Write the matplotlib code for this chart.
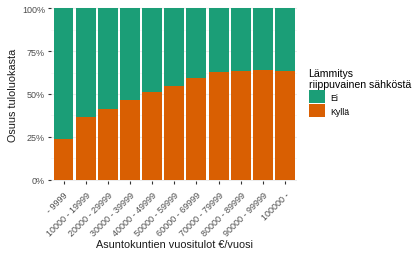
import matplotlib.pyplot as plt
import numpy as np

plt.rcParams["font.family"] = ["Liberation Sans", "DejaVu Sans"]

# income classes and share of households whose heating depends on electricity
classes = ["- 9999", "10000 - 19999", "20000 - 29999", "30000 - 39999",
           "40000 - 49999", "50000 - 59999", "60000 - 69999", "70000 - 79999",
           "80000 - 89999", "90000 - 99999", "100000 -"]
kylla = [0.235, 0.368, 0.415, 0.464, 0.509, 0.548, 0.592, 0.626, 0.633, 0.641, 0.633]
ei = [1 - v for v in kylla]

green = "#1B9E77"
orange = "#D95F02"

fig = plt.figure(figsize=(4.14, 2.55), dpi=100)
ax = fig.add_axes([0.124, 0.285, 0.594, 0.685])

x = np.arange(len(classes))
ax.bar(x, kylla, width=0.9, color=orange, label="Kyllä", zorder=2)
ax.bar(x, ei, bottom=kylla, width=0.9, color=green, label="Ei", zorder=2)

ax.set_xlim(-0.55, len(classes) - 0.45)
ax.set_ylim(-0.01, 1.01)
ax.set_yticks([0, 0.25, 0.5, 0.75, 1.0])
ax.set_yticklabels(["0%", "25%", "50%", "75%", "100%"])
ax.set_yticks([0.125, 0.375, 0.625, 0.875], minor=True)
ax.set_xticks(x)
ax.set_xticklabels(classes, rotation=45, ha="right", rotation_mode="anchor")

for s in ax.spines.values():
    s.set_visible(False)
ax.grid(axis="y", which="major", color="#ebebeb", lw=0.8, zorder=0)
ax.grid(axis="y", which="minor", color="#f3f3f3", lw=0.5, zorder=0)
ax.tick_params(axis="both", which="major", length=2.5, color="#333333",
               labelsize=6.5, labelcolor="#4d4d4d", pad=2)
ax.tick_params(axis="x", pad=4)
ax.tick_params(axis="y", which="minor", length=0)

ax.set_xlabel("Asuntokuntien vuositulot €/vuosi", fontsize=7.8, color="#1a1a1a", labelpad=1)
ax.set_ylabel("Osuus tuloluokasta", fontsize=7.8, color="#1a1a1a", labelpad=3)

handles, labels = ax.get_legend_handles_labels()
leg = fig.legend(handles[::-1], labels[::-1], title="Lämmitys\nriippuvainen sähköstä",
                 loc="upper left", bbox_to_anchor=(0.737, 0.745), frameon=False,
                 fontsize=6.3, title_fontsize=7.6, handlelength=1.85, handleheight=1.85,
                 handletextpad=0.6, labelspacing=0.15, borderaxespad=0)
leg._legend_box.align = "left"

fig.savefig("out.png", dpi=100)
